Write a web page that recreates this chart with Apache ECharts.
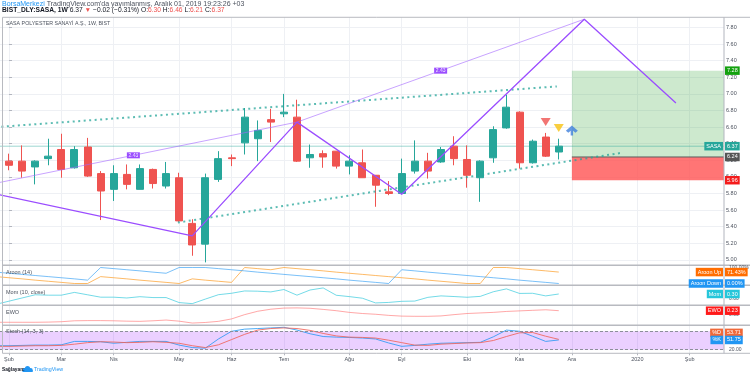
<!doctype html>
<html lang="tr">
<head>
<meta charset="UTF-8">
<title>SASA 1W</title>
<style>
  html, body { margin: 0; padding: 0; background: #fff; }
  #chart { width: 750px; height: 377px; }
</style>
</head>
<body>
<div id="chart"></div>
<script src="https://cdn.jsdelivr.net/npm/echarts@6.0.0/dist/echarts.min.js"></script>
<script>
// month ticks: week index of the first weekly bar of each month (week 0 = 4 Şub 2019)
var monthLabels = ['Şub', 'Mar', 'Nis', 'May', 'Haz', 'Tem', 'Ağu', 'Eyl', 'Eki', 'Kas', 'Ara', '2020', 'Şub'];
var monthWeek = [0, 4, 8, 13, 17, 21, 26, 30, 35, 39, 43, 48, 52];
var weekCount = 55;

// weekly candles, week 0..42
var open  = [6.19, 6.19, 6.12, 6.22, 6.33, 6.11, 6.36, 6.04, 5.85, 6.03, 5.85, 6.09, 5.89, 5.99, 5.44, 5.19, 5.97, 6.23, 6.41, 6.46, 6.69, 6.76, 6.72, 6.23, 6.28, 6.31, 6.13, 6.17, 6.02, 5.82, 5.80, 6.07, 6.19, 6.18, 6.37, 6.21, 5.99, 6.23, 6.59, 6.78, 6.17, 6.48, 6.30];
var close = [6.14, 6.07, 6.19, 6.25, 6.09, 6.33, 6.01, 5.83, 6.04, 5.91, 6.10, 5.92, 6.04, 5.47, 5.18, 5.99, 6.22, 6.22, 6.72, 6.56, 6.66, 6.78, 6.19, 6.27, 6.24, 6.13, 6.19, 5.99, 5.90, 5.80, 6.04, 6.19, 6.07, 6.33, 6.22, 6.02, 6.19, 6.57, 6.84, 6.17, 6.43, 6.25, 6.37];
var low   = [6.08, 5.99, 5.91, 6.14, 5.99, 6.10, 6.00, 5.48, 5.71, 5.85, 5.85, 5.86, 5.86, 5.46, 5.05, 4.97, 5.94, 6.13, 6.27, 6.19, 6.42, 6.72, 6.18, 6.11, 6.11, 6.10, 6.03, 5.99, 5.64, 5.78, 5.79, 6.04, 5.98, 6.17, 6.14, 5.87, 5.70, 6.17, 6.58, 6.10, 6.16, 6.24, 6.21];
var high  = [6.28, 6.38, 6.20, 6.46, 6.52, 6.37, 6.47, 6.07, 6.14, 6.15, 6.15, 6.10, 6.18, 6.05, 5.49, 6.04, 6.31, 6.27, 6.83, 6.68, 6.82, 7.00, 6.93, 6.39, 6.32, 6.31, 6.26, 6.33, 6.02, 5.95, 6.22, 6.44, 6.29, 6.36, 6.49, 6.38, 6.20, 6.61, 6.99, 6.79, 6.45, 6.53, 6.46];

// indicators, week -1..42
var indStart = -1;
var aroonUp   = [43, 36, 29, 21, 14, 7, 0, 0, 43, 36, 29, 21, 14, 7, 0, 29, 21, 14, 7, 100, 93, 86, 100, 93, 86, 79, 71, 64, 57, 50, 43, 36, 29, 21, 14, 7, 0, 0, 100, 100, 93, 86, 79, 71.43];
var aroonDown = [71, 64, 57, 50, 43, 36, 29, 21, 100, 93, 86, 79, 71, 64, 100, 100, 100, 93, 86, 79, 71, 64, 57, 50, 43, 36, 29, 21, 14, 7, 0, 86, 79, 71, 64, 57, 50, 43, 36, 29, 21, 14, 7, 0];
var mom  = [-1.0, -0.6, -0.2, 0.2, 0.15, 0.15, 0.5, 0.2, -0.1, -0.1, -0.2, -0.04, -0.15, -0.15, -0.78, -0.91, -0.34, 0.21, 0.39, 0.68, 0.65, 0.56, 0.86, 0.15, 0.80, 1.06, 0.14, -0.03, -0.23, -0.82, -0.76, -0.62, -0.59, -0.12, 0.06, -0.02, -0.11, 0.00, 0.58, 0.94, 0.37, 0.39, 0.06, 0.30];
var ewo  = [-0.39, -0.39, -0.39, -0.39, -0.38, -0.36, -0.31, -0.30, -0.30, -0.31, -0.33, -0.34, -0.31, -0.27, -0.33, -0.43, -0.40, -0.34, -0.21, 0.02, 0.20, 0.31, 0.37, 0.38, 0.36, 0.30, 0.23, 0.14, 0.08, 0.04, -0.02, -0.06, -0.07, -0.07, -0.05, 0.02, 0.08, 0.11, 0.14, 0.19, 0.22, 0.25, 0.28, 0.23];
var stochK = [33, 33, 34, 35, 35, 36, 47, 47, 46, 41, 44, 47, 47, 47, 35, 27, 25, 55, 80, 87, 89, 91, 93, 84, 72, 63, 61, 60, 58, 55, 42, 31, 34, 38, 41, 42, 43, 44, 62, 84, 80, 64, 47, 51.75];
var stochD = [31, 31, 32, 33, 33, 34, 38, 43, 46, 45, 43, 44, 46, 44, 41, 33, 27, 36, 53, 70, 84, 89, 91, 89, 83, 73, 65, 61, 60, 58, 51, 43, 35, 34, 38, 40, 42, 43, 50, 63, 75, 76, 64, 53.71];

// drawings: [week, price]
var zigzag = [[-3, 5.86], [14, 5.29], [22, 6.66], [30, 5.79], [43.95, 7.90], [50.95, 6.89]];
var ratioLabel = '2.43';
var upperTrend = [[-1, 6.60], [41.85, 7.09]];
var lowerTrend = [[12.9, 5.45], [46.8, 6.29]];
var sigRed = [[41, 6.66]];
var sigYellow = [[42, 6.59]];
var sigBlue = [[43, 6.56]];
var longStart = 43, longEntry = 6.24, longTarget = 7.28, longStop = 5.96;

// layout
var XW = 13.09, X0 = 9, PLOT_R = 724;
var XMIN = -X0 / XW, XMAX = (PLOT_R - X0) / XW;
var FONT = '"Liberation Sans", Arial, sans-serif';
var GRID_LINE = '#eef0f4';
var UP = '#26a69a', DOWN = '#ef5350';

var chart = echarts.init(document.getElementById('chart'));

var weekCats = [];
for (var i = 0; i < weekCount; i++) weekCats.push('w' + i);
function isMonth(i) { return monthWeek.indexOf(i) >= 0; }

var candles = open.map(function (o, i) { return [i, o, close[i], low[i], high[i]]; });
function pts(arr) { return arr.map(function (v, i) { return [i + indStart, v]; }); }
var lastClose = close[close.length - 1];
var A = zigzag[0], C = zigzag[2], E = zigzag[4];

function vx(k) { return { gridIndex: k, type: 'value', min: XMIN, max: XMAX, show: false }; }
function hy(k, mn, mx) { return { gridIndex: k, type: 'value', min: mn, max: mx, show: false }; }
function ln(k, data, color, width) {
    return { type: 'line', xAxisIndex: k, yAxisIndex: k, data: data, symbol: 'none', silent: true,
             lineStyle: { color: color, width: width || 1 } };
}

var option = {
    animation: false,
    textStyle: { fontFamily: FONT },
    grid: [
        { left: X0, right: 750 - (X0 + (weekCount - 1) * XW), top: 17.3, bottom: 23.7 },
        { left: 0, right: 26, top: 10.9, height: 265.6 },
        { left: 0, right: 26, top: 265.3, height: 20 },
        { left: 0, right: 26, top: 285.3, height: 20 },
        { left: 0, right: 26, top: 305.3, height: 20 },
        { left: 0, right: 26, top: 325.3, height: 28 }
    ],
    xAxis: [
        { gridIndex: 0, type: 'category', boundaryGap: false, data: weekCats,
          axisLine: { show: false },
          axisTick: { show: true, length: 2, interval: isMonth, lineStyle: { color: '#b2b5be' } },
          axisLabel: { interval: isMonth, margin: 3, fontSize: 5.5, color: '#4c525e', fontFamily: FONT,
                       formatter: function (v, idx) { var k = monthWeek.indexOf(idx); return k >= 0 ? monthLabels[k] : ''; } },
          splitLine: { show: true, interval: isMonth, lineStyle: { color: GRID_LINE } } },
        vx(1), vx(2), vx(3), vx(4), vx(5)
    ],
    yAxis: [
        hy(0, 0, 1),
        { gridIndex: 1, type: 'value', position: 'right', min: 4.8, max: 8.0, interval: 0.2,
          axisLine: { show: false },
          axisTick: { show: true, length: 3, lineStyle: { color: '#b2b5be' } },
          axisLabel: { fontSize: 5.5, color: '#4c525e', margin: 2, fontFamily: FONT,
                       showMinLabel: false, showMaxLabel: false,
                       formatter: function (v) { return v.toFixed(2); } },
          splitLine: { show: true, showMinLine: false, showMaxLine: false, lineStyle: { color: GRID_LINE } } },
        hy(2, -11.25, 113.75),
        hy(3, -1.12, 1.39),
        hy(4, -0.551, 0.519),
        hy(5, 8.27, 99.56)
    ],
    series: [
        // last price line + long position boxes
        Object.assign(ln(1, [[XMIN, lastClose], [XMAX, lastClose]], 'rgba(38,166,154,0.45)', 1), {
            z: 1,
            markArea: { silent: true, data: [
                [{ xAxis: longStart, yAxis: longEntry, itemStyle: { color: 'rgba(76,175,80,0.28)' } }, { xAxis: XMAX, yAxis: longTarget }],
                [{ xAxis: longStart, yAxis: longStop, itemStyle: { color: 'rgba(255,82,82,0.8)' } }, { xAxis: XMAX, yAxis: longEntry }]
            ] }
        }),
        Object.assign(ln(1, [[longStart, longEntry], [XMAX, longEntry]], '#5d5d5d', 1), { z: 3 }),
        {
            type: 'candlestick', xAxisIndex: 1, yAxisIndex: 1, data: candles, silent: true,
            encode: { x: 0, y: [1, 2, 3, 4] }, barWidth: 7.5, z: 4,
            itemStyle: { color: UP, color0: DOWN, borderColor: UP, borderColor0: DOWN, borderWidth: 1 }
        },
        Object.assign(ln(1, upperTrend, 'rgba(38,166,154,0.75)', 2), { z: 5, lineStyle: { color: 'rgba(38,166,154,0.75)', width: 2, type: [2, 3.5] } }),
        Object.assign(ln(1, lowerTrend, 'rgba(38,166,154,0.75)', 2), { z: 5, lineStyle: { color: 'rgba(38,166,154,0.75)', width: 2, type: [2, 3.5] } }),
        Object.assign(ln(1, [A, C, E], 'rgba(163,102,255,0.6)', 1), {
            z: 6,
            markPoint: { silent: true, symbol: 'rect', symbolSize: [13, 6],
                itemStyle: { color: '#9b4dff' },
                label: { show: true, formatter: ratioLabel, color: '#fff', fontSize: 5, fontFamily: FONT },
                data: [
                    { coord: [(A[0] + C[0]) / 2, (A[1] + C[1]) / 2] },
                    { coord: [(C[0] + E[0]) / 2, (C[1] + E[1]) / 2] }
                ] }
        }),
        Object.assign(ln(1, zigzag, '#9b4dff', 1.3), { z: 7 }),
        { type: 'scatter', xAxisIndex: 1, yAxisIndex: 1, data: sigRed, symbol: 'triangle', symbolRotate: 180,
          symbolSize: [10, 8], itemStyle: { color: DOWN }, silent: true, z: 8 },
        { type: 'scatter', xAxisIndex: 1, yAxisIndex: 1, data: sigYellow, symbol: 'triangle', symbolRotate: 180,
          symbolSize: [10, 8], itemStyle: { color: '#f7c20f' }, silent: true, z: 8 },
        { type: 'scatter', xAxisIndex: 1, yAxisIndex: 1, data: sigBlue,
          symbol: 'path://M0,6 L6,0 L12,6 L9.5,8 L7.2,6 L7.2,11 L4.8,11 L4.8,6 L2.5,8 Z',
          symbolSize: [12, 10], itemStyle: { color: '#3f7fdc' }, silent: true, z: 8 },

        // Aroon
        ln(2, pts(aroonUp), 'rgba(251,140,0,0.6)'),
        ln(2, pts(aroonDown), 'rgba(33,150,243,0.6)'),
        // Momentum
        ln(3, pts(mom), 'rgba(0,188,212,0.55)'),
        // EWO
        ln(4, pts(ewo), 'rgba(255,82,82,0.5)'),
        // Stochastic
        Object.assign(ln(5, pts(stochK), 'rgba(33,150,243,0.8)'), {
            markArea: { silent: true, itemStyle: { color: 'rgba(153,21,255,0.2)' },
                data: [[{ xAxis: XMIN, yAxis: 20 }, { xAxis: XMAX, yAxis: 80 }]] },
            markLine: { silent: true, symbol: 'none', label: { show: false },
                lineStyle: { color: '#8c8f99', type: [3, 2], width: 1 },
                data: [{ yAxis: 80 }, { yAxis: 20 }] }
        }),
        ln(5, pts(stochD), 'rgba(240,100,90,0.85)')
    ]
};
chart.setOption(option);

// overlay: frame, texts, price tags
function py(k, v) { return chart.convertToPixel({ gridIndex: k }, [0, v])[1]; }
var tagFont = '5.5px ' + FONT;
function tagR(y, text, bg) {
    return { type: 'text', x: 725, y: y, z: 120,
             style: { text: text, fill: '#fff', backgroundColor: bg, padding: [1.5, 2, 1, 2], font: tagFont, align: 'left', verticalAlign: 'middle' } };
}
function tagL(y, text, bg) {
    return { type: 'text', x: 723, y: y, z: 120,
             style: { text: text, fill: '#fff', backgroundColor: bg, padding: [1.5, 2, 1, 2], font: tagFont, align: 'right', verticalAlign: 'middle' } };
}
function txt(x, y, text, size, color, weight) {
    return { type: 'text', x: x, y: y, z: 110,
             style: { text: text, fill: color || '#4c525e', font: (weight || 'normal') + ' ' + size + 'px ' + FONT, verticalAlign: 'middle' } };
}
function hline(y, x1, x2, color, w) {
    return { type: 'line', z: 100, shape: { x1: x1, y1: y, x2: x2, y2: y }, style: { stroke: color, lineWidth: w } };
}

var frame = '#b8bac0';
var g = [
    hline(17.3, 2.5, 750, frame, 1),
    hline(353.3, 2.5, 750, frame, 1),
    hline(265.3, 2.5, 750, frame, 1.6),
    hline(285.3, 2.5, 750, frame, 1.6),
    hline(305.3, 2.5, 750, frame, 1.6),
    hline(325.3, 2.5, 750, frame, 1.6),
    { type: 'line', z: 100, shape: { x1: 2.5, y1: 17.3, x2: 2.5, y2: 353.3 }, style: { stroke: frame, lineWidth: 1 } },
    { type: 'line', z: 100, shape: { x1: 724, y1: 17.3, x2: 724, y2: 353.3 }, style: { stroke: '#b2b5be', lineWidth: 1 } },

    { type: 'text', x: 2, y: 4.3, z: 110, style: {
        text: "{b|BorsaMerkezi} TradingView.com'da yayımlanmış, Aralık 01, 2019 19:23:26 +03",
        fill: '#4c525e', font: '7px ' + FONT, verticalAlign: 'middle',
        rich: { b: { fill: '#2196f3', font: '7px ' + FONT } } } },
    { type: 'text', x: 2, y: 10.6, z: 110, style: {
        text: '{k|BIST_DLY:SASA, 1W} 6.37 {r|▼} −0.02 (−0.31%) O:{r|6.30} H:{r|6.46} L:{r|6.21} C:{r|6.37}',
        fill: '#131722', font: '6.7px ' + FONT, verticalAlign: 'middle',
        rich: { k: { fill: '#131722', font: 'bold 6.7px ' + FONT }, r: { fill: '#ef5350', font: '6.7px ' + FONT } } } },
    txt(6, 23.3, 'SASA POLYESTER SANAYİ A.Ş., 1W, BIST', 5.3, '#4c525e'),

    txt(6, 272, 'Aroon (14)', 5.5),
    txt(6, 292, 'Mom (10, close)', 5.5),
    txt(6, 312.3, 'EWO', 5.5),
    txt(6, 331.3, 'Stoch (14, 3, 3)', 5.5),

    txt(729, py(2, 100), '100.00%', 5, '#4c525e'),
    txt(729, py(3, 0) + 2.3, '0.00', 5, '#4c525e'),
    txt(729, py(4, 0), '0.00', 5, '#4c525e'),
    txt(729, py(5, 80), '80.00', 5, '#4c525e'),
    txt(729, py(5, 20), '20.00', 5, '#4c525e'),

    tagR(py(1, longTarget), longTarget.toFixed(2), '#13a10e'),
    tagL(py(1, lastClose), 'SASA', UP),
    tagR(py(1, lastClose), lastClose.toFixed(2), UP),
    tagR(py(1, longEntry), longEntry.toFixed(2), '#555'),
    tagR(py(1, longStop), longStop.toFixed(2), '#f41c1c'),

    tagL(py(2, 71.43), 'Aroon Up', '#ff6d00'),
    tagR(py(2, 71.43), '71.43%', '#ff6d00'),
    tagL(py(2, 0), 'Aroon Down', '#2196f3'),
    tagR(py(2, 0), '0.00%', '#2196f3'),
    tagL(py(3, 0.30), 'Mom', '#26c6da'),
    tagR(py(3, 0.30), '0.30', '#26c6da'),
    tagL(py(4, 0.23), 'EWO', '#ff1a1a'),
    tagR(py(4, 0.23), '0.23', '#ff1a1a'),
    tagL(py(5, 53.71) - 6.5, '%D', '#f0693a'),
    tagR(py(5, 53.71) - 6.5, '53.71', '#f0693a'),
    tagL(py(5, 51.75), '%K', '#2196f3'),
    tagR(py(5, 51.75), '51.75', '#2196f3'),

    txt(2, 369.3, 'Sağlayan:', 4.8, '#131722', 'bold'),
    { type: 'group', x: 27.5, y: 369, z: 110, children: [
        { type: 'circle', shape: { cx: -3, cy: 1, r: 2 }, style: { fill: '#2196f3' } },
        { type: 'circle', shape: { cx: 0, cy: -0.5, r: 2.6 }, style: { fill: '#2196f3' } },
        { type: 'circle', shape: { cx: 3.2, cy: 1, r: 2 }, style: { fill: '#2196f3' } },
        { type: 'rect', shape: { x: -5, y: 1, width: 10.2, height: 2 }, style: { fill: '#2196f3' } }
    ] },
    txt(34, 369.3, 'TradingView', 5.3, '#2196f3')
];
chart.setOption({ graphic: g });
</script>
</body>
</html>
